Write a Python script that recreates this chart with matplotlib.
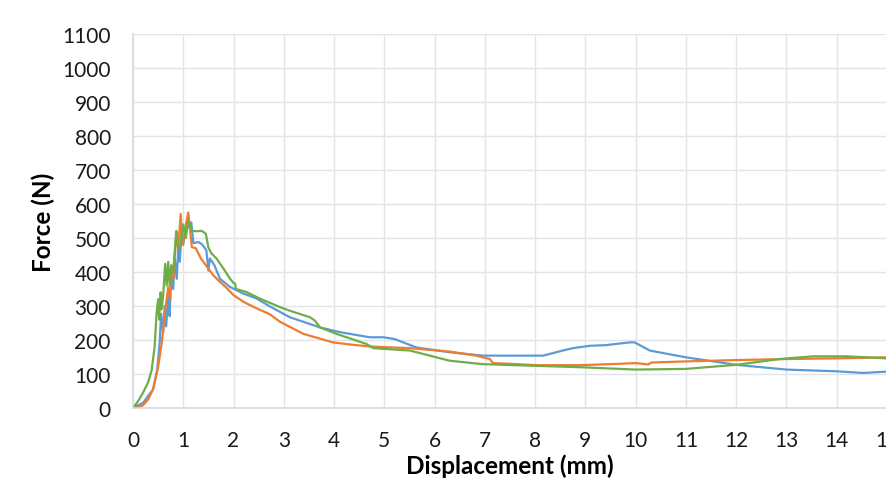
import matplotlib
matplotlib.use("Agg")
import matplotlib.pyplot as plt

# displacement (mm) / force (N) for the three specimens
blue_x = [0, 0.1, 0.2, 0.3, 0.4, 0.48, 0.53, 0.56, 0.6, 0.63, 0.66, 0.7, 0.73, 0.76,
          0.8, 0.83, 0.87, 0.9, 0.93, 0.97, 1.0, 1.05, 1.1, 1.16, 1.2, 1.3, 1.37, 1.46,
          1.5, 1.53, 1.62, 1.73, 1.93, 2.19, 2.46, 2.72, 2.92, 3.12, 3.72, 4.12, 4.71,
          4.98, 5.2, 5.64, 6.3, 6.96, 8.16, 8.55, 8.75, 9.09, 9.42, 9.88, 9.98, 10.28,
          11.0, 12.0, 13.0, 13.99, 14.52, 15.0]
blue_f = [0, 8, 15, 35, 55, 110, 190, 277, 220, 300, 240, 330, 270, 410,
          350, 440, 380, 470, 430, 520, 480, 535, 531, 546, 485, 488, 482, 464,
          404, 440, 420, 380, 356, 337, 322, 299, 283, 267, 237, 223, 208,
          208, 203, 178, 164, 154, 154, 169, 176, 183, 185, 193, 193, 169,
          149, 127, 113, 108, 103, 107]

orange_x = [0, 0.1, 0.2, 0.3, 0.4, 0.5, 0.58, 0.64, 0.68, 0.70, 0.74, 0.77, 0.80,
            0.83, 0.87, 0.90, 0.95, 0.98, 1.02, 1.06, 1.10, 1.14, 1.17, 1.25, 1.35,
            1.43, 1.5, 1.6, 1.73, 1.85, 2.0, 2.2, 2.46, 2.72, 2.92, 3.39, 3.98, 4.3,
            4.71, 5.51, 6.3, 6.83, 7.1, 7.16, 7.5, 8.02, 8.89, 9.5, 10.0, 10.25, 10.3,
            10.35, 11.0, 12.0, 13.0, 14.0, 15.0]
orange_f = [0, 2, 8, 25, 55, 120, 200, 286, 330, 355, 320, 405, 380,
            444, 520, 470, 571, 482, 500, 545, 575, 520, 473, 470, 440,
            424, 410, 390, 371, 355, 332, 312, 293, 276, 254, 218, 193, 187,
            181, 176, 166, 154, 144, 132, 130, 126, 126, 129, 132, 128, 133,
            134, 137, 141, 144, 146, 149]

green_x = [0, 0.1, 0.2, 0.3, 0.37, 0.43, 0.47, 0.5, 0.52, 0.55, 0.57, 0.6, 0.64,
           0.67, 0.7, 0.73, 0.76, 0.8, 0.86, 0.9, 0.95, 1.0, 1.05, 1.10, 1.17, 1.25,
           1.37, 1.45, 1.50, 1.56, 1.66, 1.8, 1.93, 2.0, 2.03, 2.05, 2.26, 2.52, 2.92,
           3.12, 3.52, 3.62, 3.72, 4.05, 4.65, 4.78, 5.51, 6.3, 6.96, 8.02, 8.89,
           10.0, 11.0, 12.0, 12.86, 13.53, 14.19, 15.0]
green_f = [0, 20, 45, 75, 110, 180, 280, 320, 260, 340, 290, 330, 424,
           360, 430, 360, 420, 400, 520, 470, 480, 540, 500, 551, 521, 520,
           521, 512, 472, 455, 440, 410, 380, 368, 366, 350, 341, 322, 297,
           286, 267, 257, 237, 218, 188, 176, 169, 139, 129, 124, 120,
           113, 115, 127, 144, 152, 152, 146]

x_ticks = list(range(0, 16))
y_ticks = list(range(0, 1101, 100))

plt.rcParams["font.family"] = ["Lato", "DejaVu Sans"]

fig = plt.figure(figsize=(8.86, 4.85), dpi=100)
ax = fig.add_axes([0.1501, 0.1567, 0.851, 0.7711])

ax.plot(blue_x, blue_f, color="#5b9bd5", lw=1.6)
ax.plot(orange_x, orange_f, color="#ed7d31", lw=1.6)
ax.plot(green_x, green_f, color="#70ad47", lw=1.6)

ax.set_xlim(0, 15)
ax.set_ylim(0, 1100)
ax.set_xticks(x_ticks)
ax.set_yticks(y_ticks)
ax.tick_params(length=0, labelsize=15, colors="#1a1a1a")
ax.tick_params(axis="y", pad=16)
ax.tick_params(axis="x", pad=16)

ax.grid(True, color="#e1e4e9", lw=1)
ax.set_axisbelow(True)
for side in ["top", "right"]:
    ax.spines[side].set_visible(False)
for side in ["left", "bottom"]:
    ax.spines[side].set_color("#d6d9de")
    ax.spines[side].set_linewidth(1.2)

ax.set_xlabel("Displacement (mm)", fontsize=17.5, fontweight="bold")
ax.set_ylabel("Force (N)", fontsize=17.5, fontweight="bold")
ax.xaxis.set_label_coords(0.5, -0.122)
ax.yaxis.set_label_coords(-0.104, 0.5)

fig.savefig("out.png", dpi=100)
